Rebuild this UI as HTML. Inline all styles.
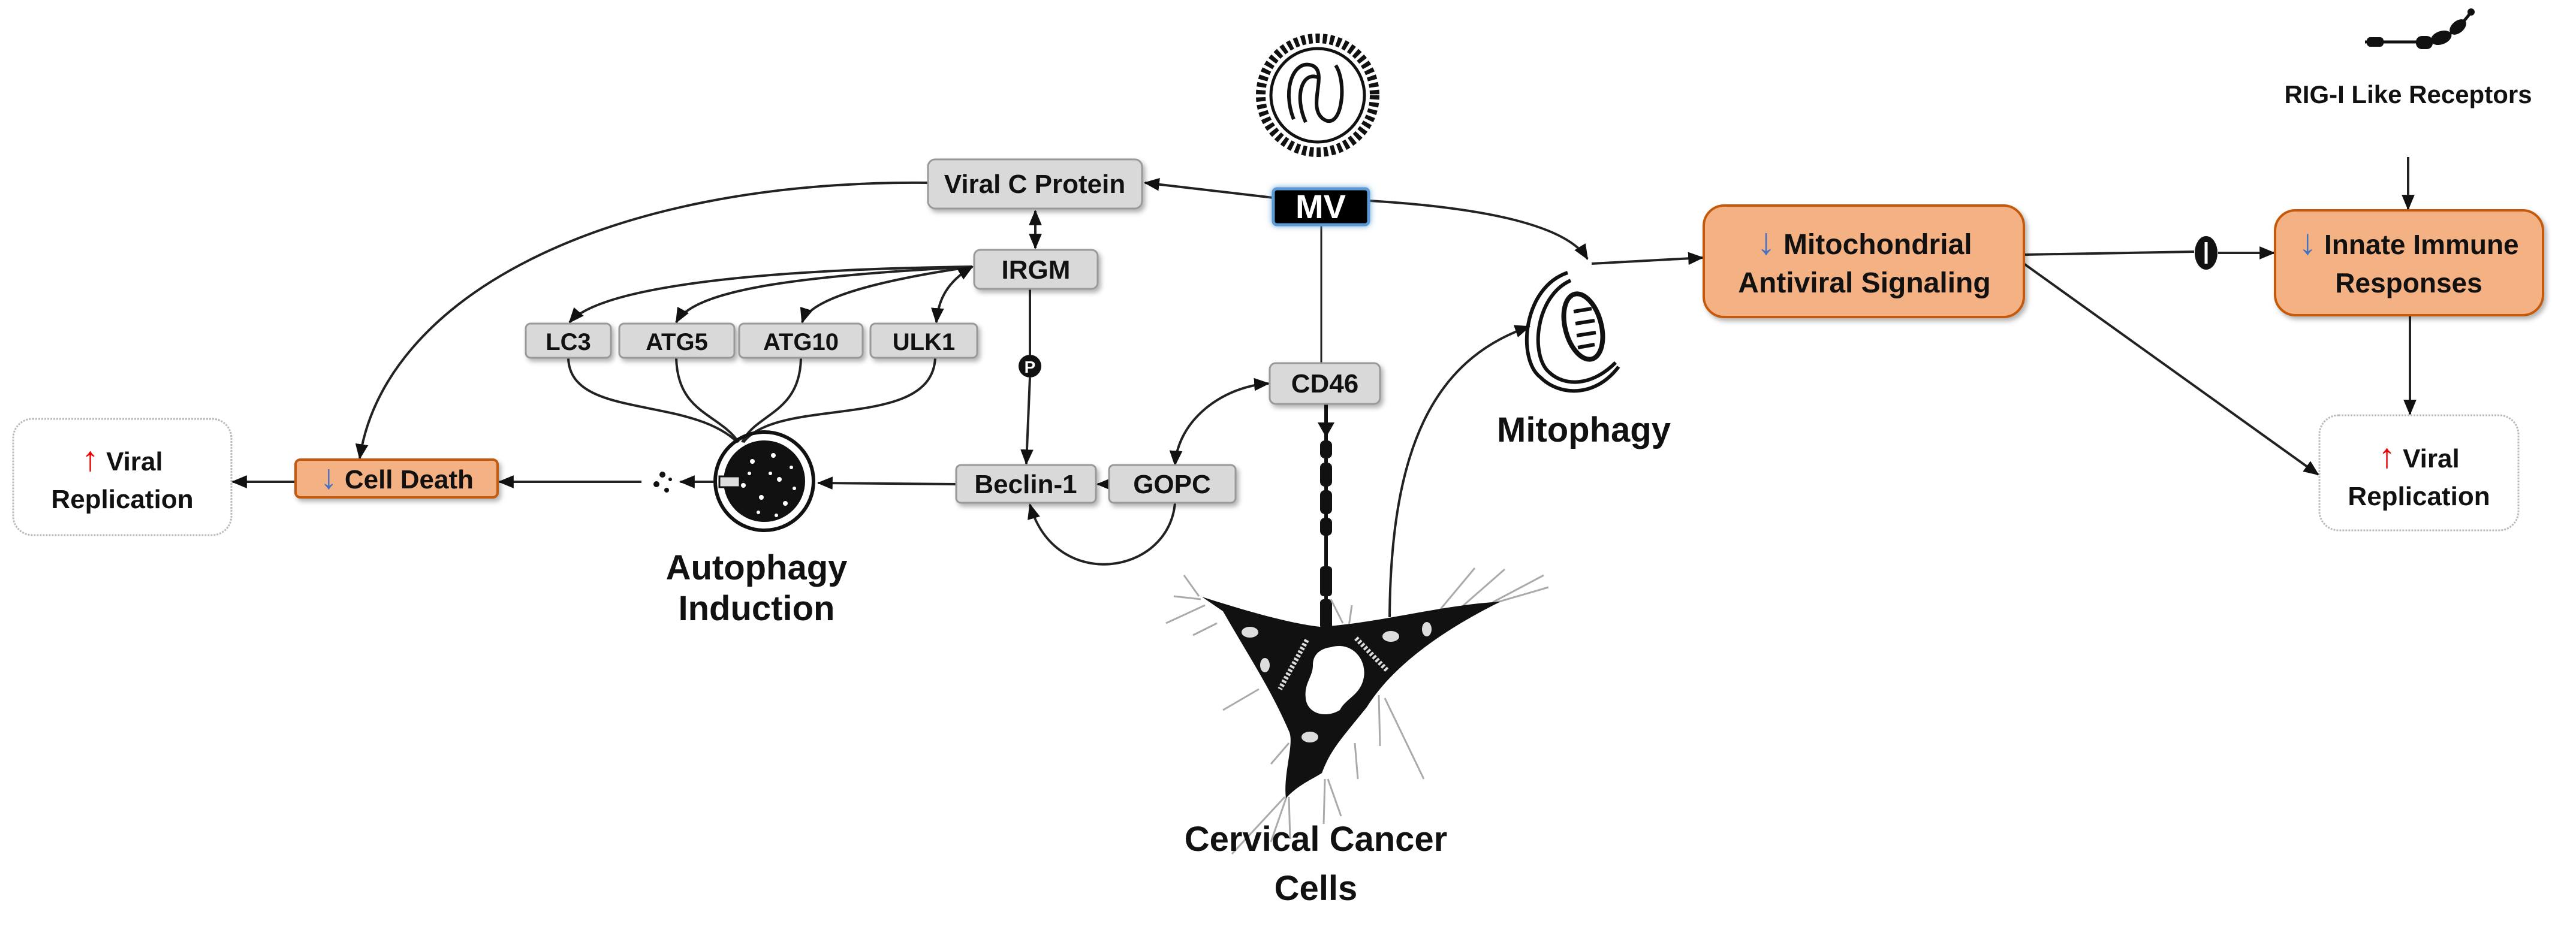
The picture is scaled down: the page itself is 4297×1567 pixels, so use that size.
<!DOCTYPE html>
<html><head><meta charset="utf-8"><style>
html,body{margin:0;padding:0;background:#fff}
svg{display:block}
text{font-family:"Liberation Sans",sans-serif;font-weight:bold;fill:#111}
.ar{font-weight:normal;font-size:1.3em}
</style></head><body>
<svg width="4297" height="1567" viewBox="0 0 4297 1567" xmlns="http://www.w3.org/2000/svg">
<defs>
<marker id="b" viewBox="0 0 24 24" refX="22" refY="12" markerWidth="26" markerHeight="26" orient="auto-start-reverse" markerUnits="userSpaceOnUse"><path d="M0,2 L24,12 L0,22 z" fill="#111"/></marker>
<filter id="sh" x="-10%" y="-10%" width="130%" height="140%"><feDropShadow dx="4" dy="5" stdDeviation="4" flood-color="#000" flood-opacity="0.3"/></filter>
<filter id="gl" x="-20%" y="-30%" width="140%" height="160%"><feDropShadow dx="0" dy="0" stdDeviation="5" flood-color="#5b9bd5" flood-opacity="0.9"/></filter>
</defs>

<g fill="none" stroke="#222" stroke-width="4">
<path d="M2124,330 L1910,305" marker-end="url(#b)"/>
<path d="M2283,335 C2450,345 2610,370 2648,432" marker-end="url(#b)"/>
<path d="M2655,440 L2840,430" marker-end="url(#b)"/>
<path d="M1548,305 C1000,300 640,500 600,765" marker-end="url(#b)"/>
<path d="M1727,352 L1727,414" marker-start="url(#b)" marker-end="url(#b)"/>
<path d="M1622,445 C1250,450 1000,480 950,538" marker-end="url(#b)"/>
<path d="M1622,445 C1350,460 1160,480 1128,538" marker-end="url(#b)"/>
<path d="M1622,445 C1450,470 1350,500 1338,538" marker-end="url(#b)"/>
<path d="M1622,445 C1580,470 1565,500 1562,538" marker-start="url(#b)" marker-end="url(#b)"/>
<path d="M948,597 C950,700 1150,660 1230,738"/>
<path d="M1128,597 C1130,690 1200,690 1232,738"/>
<path d="M1336,597 C1335,690 1260,690 1238,738"/>
<path d="M1560,597 C1555,720 1300,660 1240,738"/>
<path d="M1718,482 L1718,592"/>
<path d="M1718,630 L1712,774" marker-end="url(#b)"/>
<path d="M1960,776 C1965,700 2040,645 2116,640" marker-start="url(#b)" marker-end="url(#b)"/>
<path d="M1850,808 L1831,808" marker-end="url(#b)"/>
<path d="M1960,839 C1950,960 1760,990 1718,842" marker-end="url(#b)"/>
<path d="M1595,808 L1365,806" marker-end="url(#b)"/>
<path d="M1190,804 L1135,804" marker-end="url(#b)"/>
<path d="M1070,804 L833,804" marker-end="url(#b)"/>
<path d="M493,804 L388,804" marker-end="url(#b)"/>
<path d="M3376,425 L3660,420"/>
<path d="M3700,422 L3793,422" marker-end="url(#b)"/>
<path d="M3376,440 L3867,792" marker-end="url(#b)"/>
<path d="M4017,262 L4017,349" marker-end="url(#b)"/>
<path d="M4020,528 L4020,691" marker-end="url(#b)"/>
<path d="M2318,1030 C2320,750 2390,600 2551,545" marker-end="url(#b)"/>
</g>
<path d="M2204,375 L2204,606" stroke="#222" stroke-width="3"/>
<path d="M2212,674 L2212,1050" stroke="#111" stroke-width="6"/>
<path d="M2198,705 L2226,705 L2212,730 z" fill="#111"/>
<g fill="#111"><rect x="2202" y="735" width="20" height="30" rx="8"/><rect x="2202" y="772" width="20" height="40" rx="8"/><rect x="2202" y="818" width="20" height="40" rx="8"/><rect x="2202" y="864" width="20" height="30" rx="8"/><rect x="2202" y="945" width="20" height="50" rx="6"/><rect x="2202" y="1000" width="20" height="50" rx="6"/></g>
<ellipse cx="3680" cy="422" rx="19" ry="28" fill="#111"/>
<line x1="3680" y1="404" x2="3680" y2="440" stroke="#fff" stroke-width="5"/>
<circle cx="1718" cy="611" r="19" fill="#111"/>
<text x="1718" y="622" font-size="28" text-anchor="middle" style="fill:#fff">P</text>

<g transform="translate(2198,159)">
<circle r="95" fill="none" stroke="#111" stroke-width="16" stroke-dasharray="7 5"/>
<circle r="78" fill="none" stroke="#111" stroke-width="5"/>
<path d="M-40,40 C-60,-10 -40,-60 -10,-50 C20,-40 -20,20 10,40 C40,60 50,-20 30,-50 M-20,45 C-40,0 -25,-40 0,-30" fill="none" stroke="#111" stroke-width="6"/>
</g>
<g fill="#111"><path d="M3945,70 L4040,70 C4080,68 4100,50 4122,20" stroke="#111" stroke-width="5" fill="none"/>
<rect x="3948" y="62" width="28" height="16" rx="6"/><rect x="4030" y="60" width="28" height="22" rx="10"/><ellipse cx="4072" cy="63" rx="18" ry="11" transform="rotate(-20 4072 63)"/><ellipse cx="4100" cy="45" rx="16" ry="10" transform="rotate(-40 4100 45)"/><circle cx="4122" cy="20" r="6"/></g>

<g fill="none" stroke="#111" stroke-width="6">
<path d="M2615,455 C2540,480 2530,600 2570,630 C2600,660 2660,665 2700,612"/>
<path d="M2620,468 C2560,495 2552,595 2585,622 C2610,645 2655,645 2695,605"/>
<ellipse cx="2641" cy="545" rx="30" ry="56" transform="rotate(-15 2641 545)" stroke-width="8"/>
<path d="M2625,520 L2655,515 M2628,540 L2660,535 M2630,560 L2662,555 M2632,580 L2660,575"/>
</g>
<circle cx="1275" cy="803" r="82" fill="none" stroke="#111" stroke-width="6"/>
<circle cx="1275" cy="803" r="68" fill="#111"/>
<g fill="#fff"><circle cx="1255" cy="770" r="4"/><circle cx="1290" cy="760" r="4"/><circle cx="1300" cy="800" r="4"/><circle cx="1270" cy="830" r="4"/><circle cx="1240" cy="810" r="4"/><circle cx="1310" cy="840" r="4"/><circle cx="1285" cy="790" r="3"/><circle cx="1320" cy="780" r="3"/><circle cx="1265" cy="855" r="3"/><circle cx="1295" cy="860" r="3"/><circle cx="1250" cy="790" r="3"/><circle cx="1325" cy="815" r="3"/></g>
<rect x="1200" y="795" width="34" height="18" fill="#ddd" stroke="#111" stroke-width="3"/>
<g fill="#111"><circle cx="1105" cy="792" r="5"/><circle cx="1095" cy="808" r="5"/><circle cx="1112" cy="818" r="4"/><circle cx="1118" cy="800" r="3"/></g>

<g stroke="#aaa" stroke-width="3"><path d="M2000,995 L1975,960 M2003,1000 L1958,995 M2010,1010 L1945,1040 M2030,1040 L1990,1060 M2100,1150 L2040,1185 M2150,1240 L2120,1275 M2143,1330 L2055,1425 M2146,1330 L2120,1405 M2150,1330 L2152,1400 M2210,1300 L2208,1375 M2215,1300 L2237,1362 M2310,1165 L2375,1300 M2300,1160 L2302,1245 M2260,1240 L2265,1300 M2490,1005 L2575,960 M2480,1010 L2583,980 M2430,1020 L2510,950 M2400,1020 L2460,948 M2240,1040 L2220,1000 M2250,1045 L2255,1010"/></g>
<path d="M2005,996 C2080,1020 2150,1040 2202,1046 C2300,1040 2400,1010 2503,1004 C2430,1040 2330,1100 2280,1180 C2240,1230 2220,1250 2205,1290 C2190,1300 2165,1310 2145,1332 C2140,1290 2160,1240 2150,1220 C2120,1150 2080,1090 2040,1020 Z" fill="#111"/>
<path d="M2220,1080 C2255,1070 2280,1100 2275,1130 C2270,1160 2245,1165 2235,1185 C2210,1200 2180,1190 2178,1165 C2175,1140 2190,1130 2190,1110 C2190,1090 2205,1082 2220,1080 Z" fill="#fff"/>
<g fill="#ddd"><ellipse cx="2085" cy="1055" rx="14" ry="9"/><ellipse cx="2110" cy="1110" rx="8" ry="12"/><ellipse cx="2320" cy="1062" rx="14" ry="9"/><ellipse cx="2380" cy="1050" rx="8" ry="12"/><ellipse cx="2185" cy="1230" rx="14" ry="9"/></g>
<path d="M2180,1068 L2135,1150 M2262,1065 L2315,1120" stroke="#ddd" stroke-width="8" stroke-dasharray="4 3"/>

<g filter="url(#sh)" stroke="#999" stroke-width="3" fill="#d9d9d9">
<rect x="1548" y="266" width="357" height="82" rx="12"/>
<rect x="1625" y="417" width="206" height="65" rx="10"/>
<rect x="877" y="540" width="142" height="57" rx="8"/>
<rect x="1033" y="540" width="192" height="57" rx="8"/>
<rect x="1233" y="540" width="206" height="57" rx="8"/>
<rect x="1452" y="540" width="178" height="57" rx="8"/>
<rect x="2118" y="606" width="184" height="68" rx="10"/>
<rect x="1595" y="776" width="233" height="63" rx="8"/>
<rect x="1850" y="776" width="211" height="63" rx="8"/>
</g>
<rect x="2124" y="315" width="159" height="60" rx="6" fill="#000" stroke="#5b9bd5" stroke-width="5" filter="url(#gl)"/>
<g filter="url(#sh)" fill="#f4b183" stroke="#c55a11" stroke-width="4">
<rect x="493" y="767" width="337" height="63" rx="8"/>
<rect x="2842" y="343" width="534" height="186" rx="34"/>
<rect x="3795" y="351" width="447" height="175" rx="34"/>
</g>
<g fill="#fff" stroke="#bbb" stroke-width="3" stroke-dasharray="3 2">
<rect x="22" y="699" width="364" height="194" rx="32"/>
<rect x="3869" y="693" width="332" height="192" rx="32"/>
</g>

<g font-size="44" text-anchor="middle">
<text x="1726" y="322">Viral C Protein</text>
<text x="1728" y="465">IRGM</text>
<text x="948" y="584" font-size="40">LC3</text>
<text x="1129" y="584" font-size="40">ATG5</text>
<text x="1336" y="584" font-size="40">ATG10</text>
<text x="1541" y="584" font-size="40">ULK1</text>
<text x="2210" y="655">CD46</text>
<text x="1711" y="823">Beclin-1</text>
<text x="1955" y="823">GOPC</text>
<text x="2203" y="364" font-size="56" style="fill:#fff">MV</text>
<text x="662" y="815"><tspan class="ar" style="fill:#4472c4">↓</tspan> Cell Death</text>
<text x="204" y="785"><tspan class="ar" style="fill:#e00">↑</tspan> Viral</text>
<text x="204" y="848">Replication</text>
<text x="4035" y="780"><tspan class="ar" style="fill:#e00">↑</tspan> Viral</text>
<text x="4035" y="843">Replication</text>
<text x="3110" y="424" font-size="48"><tspan class="ar" style="fill:#4472c4">↓</tspan> Mitochondrial</text>
<text x="3110" y="488" font-size="48">Antiviral Signaling</text>
<text x="4018" y="424" font-size="46"><tspan class="ar" style="fill:#4472c4">↓</tspan> Innate Immune</text>
<text x="4018" y="488" font-size="46">Responses</text>
<text x="4017" y="172" font-size="42">RIG-I Like Receptors</text>
<text x="1262" y="967" font-size="58">Autophagy</text>
<text x="1262" y="1035" font-size="58">Induction</text>
<text x="2642" y="737" font-size="58">Mitophagy</text>
<text x="2195" y="1420" font-size="58">Cervical Cancer</text>
<text x="2195" y="1502" font-size="58">Cells</text>
</g>
</svg>
</body></html>
